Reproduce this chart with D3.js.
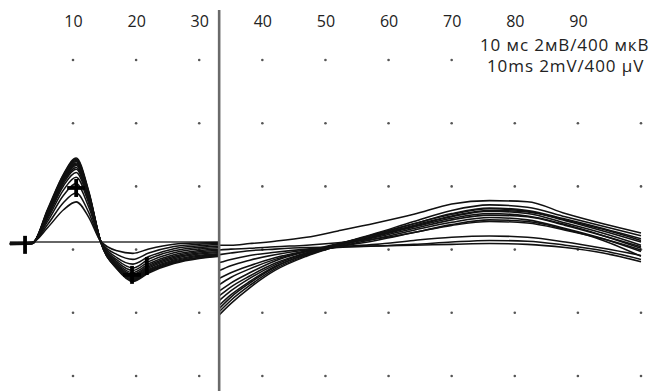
<!DOCTYPE html>
<html>
<head>
<meta charset="utf-8">
<script src="https://cdn.jsdelivr.net/npm/d3@7"></script>
<style>
  body { margin: 0; background: #fff; }
  #chart { width: 650px; height: 391px; overflow: hidden; }
  .axis text { font-family: 'Open Sans', sans-serif; font-size: 16px; fill: #222; }
  .axis .domain { display: none; }
  .trace { fill: none; stroke: #111; stroke-width: 1.55; stroke-linejoin: round; }
  .baseline { stroke: #333; stroke-width: 1.5; }
  .split { stroke: #6a6a6a; stroke-width: 2.6; }
  .dot { fill: #555; }
  .marker { stroke: #000; stroke-width: 3.8; stroke-linecap: butt; }
  .calib { font-family: 'Open Sans', sans-serif; font-size: 17px; letter-spacing: 0.9px; fill: #222; }
</style>
</head>
<body>
<div id="chart"></div>
<script>
// time labels along the top (ms)
const timeLabels = [10, 20, 30, 40, 50, 60, 70, 80, 90];
// grid columns (ms)
const gridTimes = [10, 20, 30, 40, 50, 60, 70, 80, 90, 100];

// sweep split: M-response shown at 2 mV/div before it, F-waves at 400 uV/div after it
const splitTime = 33;

// M-response sample times (ms) and traces (mV)
const mTimes = [0, 3.5, 6, 8.5, 10.5, 12.5, 14.4, 17, 19.5, 22, 26, 30, 33];
const mTraces = [
  [-0.08, -0.06, 1.05, 2.15, 2.66, 1.6, 0.0, -0.86, -1.25, -0.98, -0.68, -0.52, -0.46],
  [-0.08, -0.05, 1.02, 2.12, 2.62, 1.57, -0.01, -0.85, -1.22, -0.95, -0.66, -0.5, -0.44],
  [-0.07, -0.05, 1.0, 2.1, 2.58, 1.55, 0.0, -0.83, -1.19, -0.92, -0.63, -0.48, -0.42],
  [-0.07, -0.05, 0.98, 2.07, 2.55, 1.52, 0.01, -0.81, -1.16, -0.89, -0.6, -0.45, -0.4],
  [-0.07, -0.04, 0.95, 2.03, 2.5, 1.5, 0.0, -0.79, -1.13, -0.86, -0.57, -0.42, -0.37],
  [-0.06, -0.04, 0.93, 2.0, 2.46, 1.47, 0.01, -0.77, -1.1, -0.82, -0.53, -0.38, -0.34],
  [-0.06, -0.04, 0.9, 1.96, 2.42, 1.44, 0.0, -0.75, -1.06, -0.78, -0.49, -0.35, -0.31],
  [-0.06, -0.03, 0.88, 1.92, 2.36, 1.4, 0.02, -0.72, -1.02, -0.74, -0.45, -0.31, -0.27],
  [-0.05, -0.03, 0.85, 1.86, 2.3, 1.36, 0.0, -0.68, -0.97, -0.69, -0.4, -0.27, -0.23],
  [-0.05, -0.03, 0.8, 1.78, 2.2, 1.3, 0.02, -0.63, -0.9, -0.62, -0.34, -0.22, -0.18],
  [-0.05, -0.02, 0.74, 1.65, 2.05, 1.22, 0.0, -0.57, -0.82, -0.54, -0.28, -0.17, -0.13],
  [-0.04, -0.02, 0.66, 1.48, 1.85, 1.1, 0.02, -0.5, -0.7, -0.46, -0.21, -0.12, -0.08],
  [-0.04, -0.02, 0.56, 1.25, 1.55, 0.93, 0.0, -0.4, -0.55, -0.35, -0.14, -0.07, -0.05],
  [-0.03, -0.01, 0.46, 1.02, 1.27, 0.78, 0.02, -0.28, -0.36, -0.22, -0.07, -0.03, -0.02]
];

// F-wave sample times (ms) and traces (uV)
const fTimes = [33.2, 35, 38, 42, 47, 52, 58, 64, 70, 76, 82, 88, 94, 100];
const fTraces = [
  [-460, -390, -290, -180, -90, -25, 40, 100, 160, 195, 180, 120, 55, -20],
  [-440, -370, -275, -170, -85, -20, 50, 115, 175, 210, 195, 140, 80, 10],
  [-420, -350, -260, -160, -75, -15, 55, 130, 200, 235, 220, 160, 100, 40],
  [-400, -335, -250, -155, -80, -25, 35, 95, 150, 180, 165, 110, 40, -40],
  [-370, -310, -230, -145, -70, -15, 50, 115, 180, 215, 200, 145, 85, 20],
  [-340, -285, -215, -135, -70, -30, 20, 75, 125, 155, 140, 85, 20, -60],
  [-310, -260, -195, -120, -60, -10, 45, 105, 165, 200, 190, 135, 70, 0],
  [-270, -225, -170, -110, -60, -30, 10, 60, 110, 140, 130, 80, 10, -90],
  [-230, -195, -150, -100, -55, -20, 30, 85, 140, 170, 160, 105, 40, -30],
  [-180, -150, -115, -80, -50, -35, -25, -15, 0, 10, 5, -20, -55, -110],
  [-130, -110, -85, -65, -45, -30, -15, 10, 30, 38, 30, 0, -40, -85],
  [-80, -70, -55, -45, -35, -30, -25, -20, -15, -10, -15, -35, -70, -125],
  [-50, -45, -40, -30, -20, -5, 20, 60, 105, 130, 120, 75, 20, -50],
  [-20, -20, -10, 5, 30, 70, 120, 175, 240, 262, 255, 180, 115, 57]
];

// cursor markers on the M-response (ms, mV)
const markers = [
  {t: 2.4, v: -0.09, kind: 'bar'},
  {t: 10.5, v: 1.71, kind: 'cross'},
  {t: 19.35, v: -1.04, kind: 'cross'},
  {t: 21.7, v: -0.76, kind: 'bar'}
];

const calibLines = ['10 мс 2мВ/400 мкВ', '10ms 2mV/400 µV'];

/** Chart geometry */
const width = 650, height = 391;
const zeroY = 242;     // baseline of both sweeps
const divPx = 63.2;    // one grid division

const svg = d3.select('#chart').append('svg')
  .attr('width', width)
  .attr('height', height);

const x = d3.scaleLinear().domain([0, 100]).range([9.9, 641]);
const yM = d3.scaleLinear().domain([0, 2]).range([zeroY, zeroY - divPx]);
const yF = d3.scaleLinear().domain([0, 400]).range([zeroY, zeroY - divPx]);
const gridRow = d3.scaleLinear().domain([0, 5]).range([60, 60 + 5 * divPx]);

drawGrid();
drawAxis();
drawTraces();
drawMarkers();
drawCalibration();

function drawGrid() {
  const cells = [];
  gridTimes.forEach(t => d3.range(6).forEach(r => cells.push([t, r])));
  svg.append('g').selectAll('circle')
    .data(cells)
    .join('circle')
    .attr('class', 'dot')
    .attr('cx', d => x(d[0]))
    .attr('cy', d => gridRow(d[1]))
    .attr('r', 1.3);
}

function drawAxis() {
  svg.append('g')
    .attr('class', 'axis')
    .attr('transform', 'translate(0, 27)')
    .call(d3.axisTop(x).tickValues(timeLabels).tickSize(0).tickPadding(0))
    .selectAll('text').attr('dy', 0);
}

function drawTraces() {
  // baseline under the M-response, then the split line
  svg.append('line')
    .attr('class', 'baseline')
    .attr('x1', x(0)).attr('x2', x(splitTime))
    .attr('y1', yM(0)).attr('y2', yM(0));

  const mLine = d3.line()
    .x((d, i) => x(mTimes[i]))
    .y(d => yM(d))
    .curve(d3.curveMonotoneX);

  const fLine = d3.line()
    .x((d, i) => x(fTimes[i]))
    .y(d => yF(d))
    .curve(d3.curveMonotoneX);

  svg.append('g').selectAll('path')
    .data(mTraces)
    .join('path')
    .attr('class', 'trace')
    .attr('d', mLine);

  svg.append('g').selectAll('path')
    .data(fTraces)
    .join('path')
    .attr('class', 'trace')
    .attr('d', fLine);

  svg.append('line')
    .attr('class', 'split')
    .attr('x1', x(splitTime) + 1).attr('x2', x(splitTime) + 1)
    .attr('y1', 10).attr('y2', height);
}

function drawMarkers() {
  const half = 9;
  const g = svg.append('g');
  markers.forEach(m => {
    const cx = x(m.t), cy = yM(m.v);
    g.append('line').attr('class', 'marker')
      .attr('x1', cx).attr('x2', cx)
      .attr('y1', cy - half).attr('y2', cy + half);
    if (m.kind === 'cross') {
      g.append('line').attr('class', 'marker')
        .attr('x1', cx - half).attr('x2', cx + half)
        .attr('y1', cy).attr('y2', cy);
    }
  });
}

function drawCalibration() {
  // calibration box sits on a white patch that hides the grid dots beneath it
  const g = svg.append('g');
  const bg = g.append('rect').attr('fill', '#fff');
  const t1 = g.append('text').attr('class', 'calib')
    .attr('x', 480).attr('y', 51)
    .text(calibLines[0]);
  g.append('text').attr('class', 'calib')
    .attr('x', 487).attr('y', 72)
    .text(calibLines[1]);
  const b = g.node().getBBox();
  bg.attr('x', b.x).attr('y', b.y + 4).attr('width', b.width).attr('height', b.height - 4);
}
</script>
</body>
</html>
